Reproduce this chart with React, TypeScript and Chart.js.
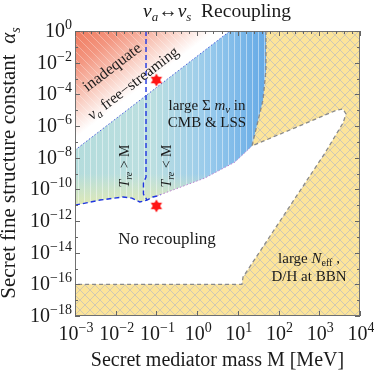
import React, { useEffect, useRef } from 'react';
import { Chart, registerables } from 'chart.js';

Chart.register(...registerables);

const FONT = "'Liberation Serif', 'Times New Roman', serif";

// axis decades
const xDecades = [-3, -2, -1, 0, 1, 2, 3, 4];
const yDecades = [0, -1, -2, -3, -4, -5, -6, -7, -8, -9, -10, -11, -12, -13, -14, -15, -16, -17, -18];
const yLabelDecades = [0, -2, -4, -6, -8, -10, -12, -14, -16, -18];

// regions [M (MeV), alpha_s]
const redRegion: [number, number][] = [[1e-3, 1], [6.4, 1], [1e-3, 3e-8]];
const blueRegion: [number, number][] = [
  [1e-3, 3e-8], [6.4, 1], [49, 1], [49, 3.5e-3], [41.5, 4.4e-5], [29.5, 1.15e-6], [22.2, 5.5e-8],
  [8.5, 5.3e-9], [1.56, 5.2e-10], [0.103, 3.8e-11], [0.082, 3.3e-11], [0.059, 2.1e-11], [0.039, 1.6e-11],
  [0.025, 2.8e-11], [0.0151, 3.3e-11], [4.1e-3, 2.1e-11], [1e-3, 1.0e-11],
];
const yellowEdge: [number, number][] = [
  [49, 1], [49, 3.5e-3], [41.5, 4.4e-5], [29.5, 1.15e-6], [22.2, 5.5e-8],
  [2720, 1.02e-5], [3830, 1.18e-5], [4530, 5.7e-6], [3830, 1.55e-6], [1380, 1.96e-8],
  [13.4, 2.9e-16], [12.6, 1e-16], [1e-3, 1e-16],
];
const yellowCorners: [number, number][] = [[1e-3, 1e-18], [1e4, 1e-18], [1e4, 1]];
const blueBottomLine: [number, number][] = [
  [1e-3, 1e-11], [4.1e-3, 2.1e-11], [0.0151, 3.3e-11], [0.025, 2.8e-11], [0.039, 1.6e-11],
  [0.059, 2.1e-11], [0.082, 3.3e-11], [0.103, 3.8e-11], [0.125, 4.6e-11],
];
const blueVerticalLine: [number, number][] = [[0.0555, 1], [0.0555, 6e-10], [0.048, 2.5e-10], [0.048, 5e-11], [0.059, 2.1e-11]];
const blueDiagonalLine: [number, number][] = [[1e-3, 3e-8], [6.4, 1]];
const pinkEdgeLine: [number, number][] = [[0.103, 3.8e-11], [1.56, 5.2e-10], [8.5, 5.3e-9], [22.2, 5.5e-8]];
const benchmarkStars: [number, number][] = [[0.1, 8e-4], [0.1, 9e-12]];

const pts = (a: [number, number][]) => a.map(([x, y]) => ({ x, y }));

type Seg = { t: string; it?: boolean; s?: number; dy?: number };

function drawRich(ctx: CanvasRenderingContext2D, segs: Seg[], x: number, y: number, size: number, align = 'center') {
  const f = (g: Seg) => `${g.it ? 'italic ' : ''}${g.s ?? size}px ${FONT}`;
  let w = 0;
  for (const g of segs) { ctx.font = f(g); w += ctx.measureText(g.t).width; }
  let cx = align === 'center' ? x - w / 2 : align === 'right' ? x - w : x;
  ctx.textAlign = 'left';
  ctx.textBaseline = 'alphabetic';
  for (const g of segs) {
    ctx.font = f(g);
    ctx.fillText(g.t, cx, y + (g.dy ?? 0));
    cx += ctx.measureText(g.t).width;
  }
}

function powSegs(e: number): Seg[] {
  return [{ t: '10' }, { t: e < 0 ? '\u2212' + -e : String(e), s: 14, dy: -8 }];
}

function rotated(ctx: CanvasRenderingContext2D, x: number, y: number, ang: number, fn: () => void) {
  ctx.save();
  ctx.translate(x, y);
  ctx.rotate(ang);
  fn();
  ctx.restore();
}

const decorPlugin = {
  id: 'decor',
  afterDatasetsDraw(chart: any) {
    const ctx: CanvasRenderingContext2D = chart.ctx;
    const { left, right, top, bottom } = chart.chartArea;
    const xs = chart.scales.x;
    const ys = chart.scales.y;
    ctx.save();
    ctx.fillStyle = '#1a1a1a';

    // region annotations
    const ang = -37.5 * Math.PI / 180;
    rotated(ctx, 112, 67, ang, () => drawRich(ctx, [{ t: 'inadequate' }], 0, 5, 16));
    rotated(ctx, 133, 83, ang, () =>
      drawRich(ctx, [{ t: '\u03bd', it: true }, { t: 'a', it: true, s: 11, dy: 3 }, { t: ' free\u2212streaming' }], 0, 5, 15.5));
    drawRich(ctx, [{ t: 'large \u03a3 ' }, { t: 'm', it: true }, { t: '\u03bd', it: true, s: 11, dy: 3 }, { t: ' in' }], 207, 110, 15);
    drawRich(ctx, [{ t: 'CMB & LSS' }], 207, 127, 15);
    rotated(ctx, 129, 166, -Math.PI / 2, () =>
      drawRich(ctx, [{ t: 'T', it: true }, { t: 're', it: true, s: 10, dy: 3 }, { t: ' > M' }], 0, 0, 14));
    rotated(ctx, 171, 166, -Math.PI / 2, () =>
      drawRich(ctx, [{ t: 'T', it: true }, { t: 're', it: true, s: 10, dy: 3 }, { t: ' < M' }], 0, 0, 14));
    drawRich(ctx, [{ t: 'No recoupling' }], 167, 244, 17);
    drawRich(ctx, [{ t: 'large ' }, { t: 'N', it: true }, { t: 'eff', s: 10, dy: 3 }, { t: ' ,' }], 309, 263, 15);
    drawRich(ctx, [{ t: 'D/H at BBN' }], 309, 281, 15);

    // frame
    ctx.strokeStyle = '#707070';
    ctx.lineWidth = 1;
    ctx.strokeRect(left + 0.5, top + 0.5, right - left - 1, bottom - top - 1);

    // ticks
    ctx.strokeStyle = '#666';
    ctx.beginPath();
    for (const e of xDecades) {
      const x = Math.round(xs.getPixelForValue(Math.pow(10, e))) + 0.5;
      ctx.moveTo(x, bottom); ctx.lineTo(x, bottom - 5);
      ctx.moveTo(x, top); ctx.lineTo(x, top + 5);
      if (e < 4) {
        for (const k of [0.2, 0.4, 0.6, 0.8]) {
          const xm = Math.round(xs.getPixelForValue(Math.pow(10, e + k))) + 0.5;
          ctx.moveTo(xm, top); ctx.lineTo(xm, top + 3);
        }
      }
    }
    for (const e of yDecades) {
      const y = Math.round(ys.getPixelForValue(Math.pow(10, e))) + 0.5;
      const len = e % 2 === 0 ? 5 : 3;
      ctx.moveTo(left, y); ctx.lineTo(left + len, y);
      ctx.moveTo(right, y); ctx.lineTo(right - len, y);
    }
    ctx.stroke();

    // tick labels
    ctx.fillStyle = '#1a1a1a';
    for (const e of xDecades) {
      const x = xs.getPixelForValue(Math.pow(10, e));
      drawRich(ctx, powSegs(e), x + 1, 340, 20, 'center');
    }
    for (const e of yLabelDecades) {
      const y = ys.getPixelForValue(Math.pow(10, e));
      drawRich(ctx, powSegs(e), 72, y + 6, 20, 'right');
    }

    // axis titles
    drawRich(ctx, [{ t: 'Secret mediator mass M [MeV]' }], (left + right) / 2, 366, 20);
    rotated(ctx, 15, 163, -Math.PI / 2, () =>
      drawRich(ctx, [{ t: 'Secret fine structure constant  ' }, { t: '\u03b1', it: true }, { t: 's', it: true, s: 14, dy: 5 }], 0, 0, 21));

    // title
    drawRich(ctx, [
      { t: '\u03bd', it: true }, { t: 'a', it: true, s: 13, dy: 4 }, { t: '\u2194' },
      { t: '\u03bd', it: true }, { t: 's', it: true, s: 13, dy: 4 }, { t: '  Recoupling' },
    ], 217, 17, 19.5);
    ctx.restore();
  },
};

export default function App() {
  const ref = useRef<HTMLCanvasElement>(null);
  useEffect(() => {
    const canvas = ref.current!;
    const c2d = canvas.getContext('2d')!;

    const mkPat = (s: number, draw: (g: CanvasRenderingContext2D) => void) => {
      const pc = document.createElement('canvas');
      pc.width = s; pc.height = s;
      const g = pc.getContext('2d')!;
      draw(g);
      return c2d.createPattern(pc, 'repeat');
    };
    const yellowPat = mkPat(10, (g) => {
      g.fillStyle = '#fce49a';
      g.fillRect(0, 0, 10, 10);
      g.strokeStyle = 'rgba(195,192,185,0.8)';
      g.lineWidth = 1;
      g.beginPath();
      g.moveTo(-1, -1); g.lineTo(11, 11);
      g.moveTo(11, -1); g.lineTo(-1, 11);
      g.stroke();
    });
    const stripePat = mkPat(6, (g) => {
      g.fillStyle = 'rgba(255,255,255,0.45)';
      g.fillRect(0, 0, 1, 6);
    });
    const redHatch = mkPat(8, (g) => {
      g.strokeStyle = 'rgba(255,255,255,0.3)';
      g.lineWidth = 1;
      g.beginPath();
      g.moveTo(-1, -1); g.lineTo(9, 9);
      g.stroke();
    });

    const star = document.createElement('canvas');
    star.width = 14; star.height = 14;
    {
      const g = star.getContext('2d')!;
      g.fillStyle = '#ff1515';
      const R = 6.5, cx = 7, cy = 7;
      for (const off of [-90, 90]) {
        g.beginPath();
        for (let i = 0; i < 3; i++) {
          const a = (off + i * 120) * Math.PI / 180;
          const px = cx + R * Math.cos(a), py = cy + R * Math.sin(a);
          if (i === 0) g.moveTo(px, py); else g.lineTo(px, py);
        }
        g.closePath();
        g.fill();
      }
    }

    const px = (ch: any, v: number) => ch.scales.x.getPixelForValue(v);
    const py = (ch: any, v: number) => ch.scales.y.getPixelForValue(v);

    const redGrad = (ctxc: any) => {
      const ch = ctxc.chart;
      if (!ch.chartArea) return 'rgba(0,0,0,0)';
      const cx = px(ch, redRegion[0][0]), cy = py(ch, redRegion[0][1]);
      const bx = px(ch, redRegion[1][0]), by = py(ch, redRegion[1][1]);
      const ax = px(ch, redRegion[2][0]), ay = py(ch, redRegion[2][1]);
      const dx = bx - ax, dy = by - ay;
      const t = ((cx - ax) * dx + (cy - ay) * dy) / (dx * dx + dy * dy);
      const fx = ax + t * dx, fy = ay + t * dy;
      const g = ch.ctx.createLinearGradient(cx, cy, fx, fy);
      g.addColorStop(0, '#ef7a5e');
      g.addColorStop(0.3, '#f39680');
      g.addColorStop(0.62, '#f9cdc1');
      g.addColorStop(0.9, '#ffffff');
      g.addColorStop(1, '#ffffff');
      return g;
    };
    const blueGrad = (ctxc: any) => {
      const ch = ctxc.chart;
      if (!ch.chartArea) return 'rgba(0,0,0,0)';
      const g = ch.ctx.createLinearGradient(px(ch, 1e-3), 0, px(ch, 49), 0);
      g.addColorStop(0, '#b4dcdc');
      g.addColorStop(0.4, '#bcdfe0');
      g.addColorStop(0.7, '#98caec');
      g.addColorStop(1, '#64a9e6');
      return g;
    };
    const glowGrad = (ctxc: any) => {
      const ch = ctxc.chart;
      if (!ch.chartArea) return 'rgba(0,0,0,0)';
      const g = ch.ctx.createLinearGradient(0, py(ch, 1e-9), 0, py(ch, 1e-11));
      g.addColorStop(0, 'rgba(240,240,170,0)');
      g.addColorStop(1, 'rgba(240,238,165,0.7)');
      return g;
    };

    const area = (data: [number, number][], bg: any, order: number) => ({
      data: pts(data), showLine: true, fill: 'shape', backgroundColor: bg,
      borderColor: 'rgba(0,0,0,0)', borderWidth: 0, pointRadius: 0, tension: 0, order,
    });
    const line = (data: [number, number][], color: string, width: number, dash: number[], order: number) => ({
      data: pts(data), showLine: true, fill: false, borderColor: color, borderWidth: width,
      borderDash: dash, pointRadius: 0, tension: 0, order, backgroundColor: color,
    });

    const chart = new Chart(canvas, {
      type: 'scatter',
      data: {
        datasets: [
          area(redRegion, redGrad, 100),
          area(redRegion, redHatch, 99),
          area([...yellowEdge, ...yellowCorners], yellowPat, 98),
          area(blueRegion, blueGrad, 97),
          area(blueRegion, glowGrad, 96),
          area(blueRegion, stripePat, 95),
          line(yellowEdge, '#8a8a8a', 1.3, [4, 3], 20),
          line(blueDiagonalLine, '#5060e0', 1, [1.5, 2], 19),
          line(pinkEdgeLine, '#c080d0', 1, [1.5, 2], 18),
          line(blueBottomLine, '#1f35e0', 1.4, [5, 3], 17),
          line(blueVerticalLine, '#1f35e0', 1.4, [5, 3], 16),
          {
            data: pts(benchmarkStars), showLine: false, pointStyle: star as any, pointRadius: 7,
            backgroundColor: '#ff1515', borderColor: '#ff1515', order: 1,
          },
        ] as any,
      },
      options: {
        responsive: false,
        devicePixelRatio: 1,
        animation: false,
        events: [],
        layout: { padding: { top: 31, right: 14, bottom: 0, left: 0 } },
        plugins: { legend: { display: false }, tooltip: { enabled: false }, title: { display: false } },
        scales: {
          x: {
            type: 'logarithmic', min: 1e-3, max: 1e4,
            ticks: { display: false }, grid: { display: false }, border: { display: false },
            afterFit: (s: any) => { s.height = 56; },
          },
          y: {
            type: 'logarithmic', min: 1e-18, max: 1,
            ticks: { display: false }, grid: { display: false }, border: { display: false },
            afterFit: (s: any) => { s.width = 75; },
          },
        },
      } as any,
      plugins: [decorPlugin],
    });
    return () => chart.destroy();
  }, []);

  return (
    <div style={{ position: 'fixed', left: 0, top: 0, width: 374, height: 372, background: '#fff' }}>
      <canvas ref={ref} width={374} height={372} style={{ width: 374, height: 372, display: 'block' }} />
    </div>
  );
}
